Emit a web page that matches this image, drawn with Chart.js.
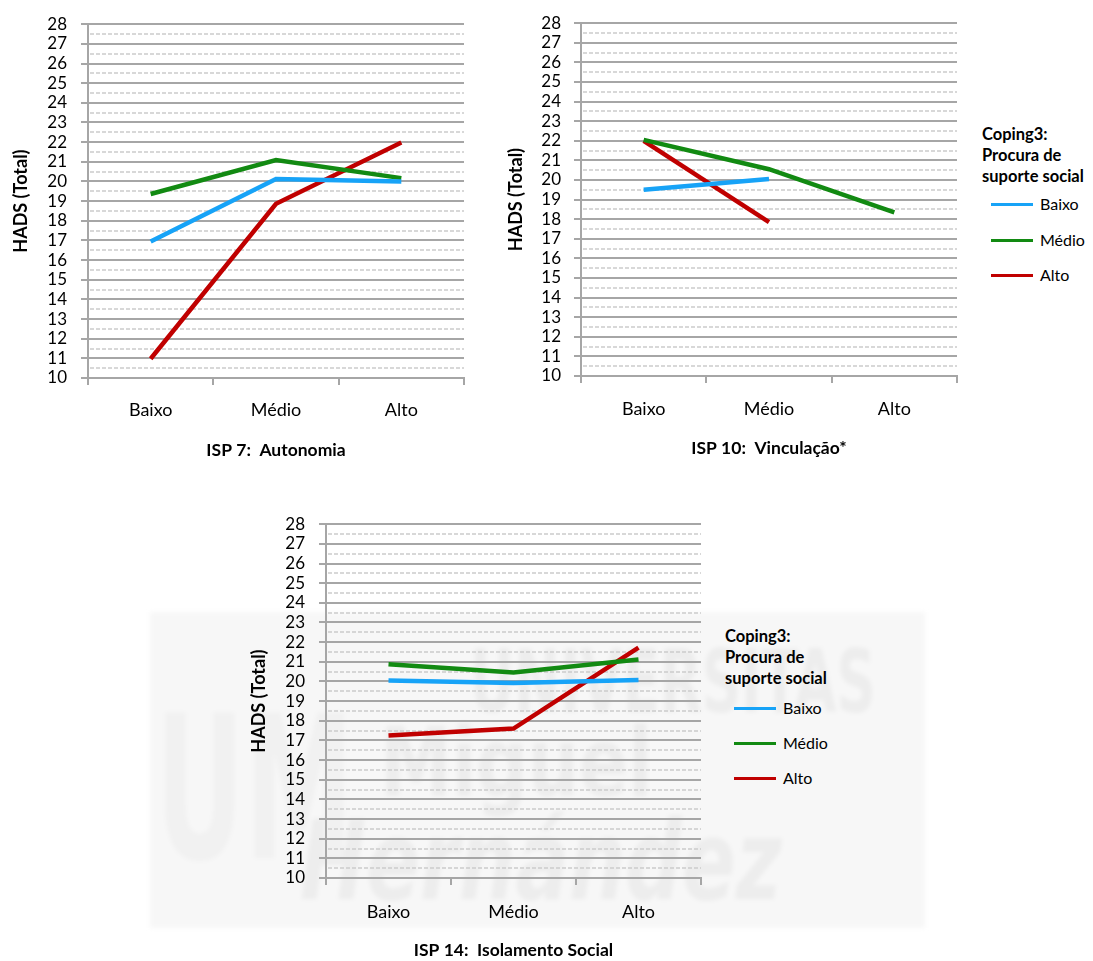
<!DOCTYPE html>
<html>
<head>
<meta charset="utf-8">
<script src="https://cdn.jsdelivr.net/npm/chart.js@4.4.0/dist/chart.umd.min.js"></script>
<style>
  body { margin: 0; background: #fff; width: 1093px; height: 961px; position: relative; overflow: hidden; font-family: Lato, sans-serif; }
  canvas { position: absolute; }
  .wm { position: absolute; left: 150px; top: 612px; width: 775px; height: 316px; background: #f7f7f7; filter: blur(2px); overflow: hidden; }
  .wm div { position: absolute; color: #ededed; font-family: "DejaVu Sans", sans-serif; font-weight: bold; white-space: nowrap; transform-origin: left top; }
  .legend { position: absolute; color: #000; }
  .legend .ttl { font-weight: bold; font-size: 16.5px; line-height: 21px; white-space: nowrap; }
  .legend .item { position: absolute; left: 0; height: 20px; font-size: 16px; line-height: 20px; white-space: nowrap; }
  .legend .sw { position: absolute; left: 9px; top: 9px; width: 42px; height: 3px; }
  .legend .lb { position: absolute; left: 58px; top: 0; }
</style>
</head>
<body>
<div class="wm">
  <div style="left:320px;top:18px;font-size:88px;transform:scaleX(0.62)">UNIVERSITAS</div>
  <div style="left:230px;top:95px;font-size:96px;transform:scaleX(0.75)">Miguel</div>
  <div style="left:150px;top:185px;font-size:110px;font-style:italic;transform:scaleX(0.72)">Hernández</div>
  <div style="left:5px;top:60px;font-size:200px;transform:scaleX(0.55);color:#f1f1f1">UM</div>
</div>

<canvas id="c1" width="480" height="470" style="left:0;top:0;width:480px;height:470px"></canvas>
<canvas id="c2" width="480" height="470" style="left:500px;top:0;width:480px;height:470px"></canvas>
<canvas id="c3" width="480" height="461" style="left:240px;top:500px;width:480px;height:461px"></canvas>

<div class="legend" id="leg2" style="left:982px;top:124px"></div>
<div class="legend" id="leg3" style="left:725px;top:626px"></div>

<script>
var categories = ['Baixo', 'Médio', 'Alto'];
var seriesNames = ['Baixo', 'Médio', 'Alto'];
var seriesColors = ['#17a3f7', '#128a12', '#c00000'];
var legendTitle = ['Coping3:', 'Procura de', 'suporte social'];
var yTitle = 'HADS (Total)';
var yMin = 10, yMax = 28;

// ISP 7: Autonomia
var isp7Baixo = [16.95, 20.13, 20.0];
var isp7Medio = [19.36, 21.09, 20.17];
var isp7Alto = [10.98, 18.86, 21.98];

// ISP 10: Vinculação*
var isp10Baixo = [19.5, 20.05, null];
var isp10Medio = [22.05, 20.55, 18.35];
var isp10Alto = [22.0, 17.85, null];

// ISP 14: Isolamento Social
var isp14Baixo = [20.05, 19.92, 20.07];
var isp14Medio = [20.88, 20.45, 21.12];
var isp14Alto = [17.25, 17.6, 21.72];

var gridGray = '#a6a6a6';

// dashed half-step lines between the solid ones
var minorGrid = {
  id: 'minorGrid',
  beforeDatasetsDraw: function(chart) {
    var ctx = chart.ctx, area = chart.chartArea, y = chart.scales.y;
    ctx.save();
    ctx.strokeStyle = '#cccccc';
    ctx.lineWidth = 1.6;
    ctx.setLineDash([4, 2]);
    for (var v = y.min + 0.5; v < y.max; v += 1) {
      var py = Math.round(y.getPixelForValue(v));
      ctx.beginPath();
      ctx.moveTo(area.left + 2, py);
      ctx.lineTo(area.right, py);
      ctx.stroke();
    }
    ctx.restore();
  }
};

function makeChart(id, title, baixo, medio, alto, g) {
  var values = [baixo, medio, alto];
  var datasets = [];
  for (var i = 0; i < 3; i++) {
    datasets.push({
      label: seriesNames[i],
      data: values[i],
      borderColor: seriesColors[i],
      backgroundColor: seriesColors[i],
      borderWidth: 4.5,
      pointRadius: 0,
      tension: 0
    });
  }
  return new Chart(document.getElementById(id), {
    type: 'line',
    data: { labels: categories, datasets: datasets },
    plugins: [minorGrid],
    options: {
      responsive: false,
      animation: false,
      layout: { padding: { left: 0, top: g.top, right: g.right, bottom: 0 } },
      plugins: { legend: { display: false }, tooltip: { enabled: false } },
      scales: {
        x: {
          offset: true,
          ticks: { color: '#000', font: { family: 'Lato', size: 18 }, padding: g.xPad },
          grid: { offset: true, drawOnChartArea: false, color: gridGray, lineWidth: 2, tickLength: 7, tickColor: gridGray },
          border: { display: true, color: gridGray, width: 2 },
          title: { display: true, text: title, color: '#000', font: { family: 'Lato', size: 17.5, weight: 'bold' }, padding: { top: 0, bottom: g.xTitlePad } },
          afterFit: function(s) { s.height = g.xHeight; }
        },
        y: {
          min: yMin,
          max: yMax,
          ticks: { stepSize: 1, autoSkip: false, color: '#000', font: { family: 'Lato', size: 17 }, padding: g.yPad },
          grid: { color: gridGray, lineWidth: 2, tickLength: 7, tickColor: gridGray, tickWidth: 2 },
          border: { display: true, color: gridGray, width: 2 },
          title: { display: true, text: yTitle, color: '#000', font: { family: 'Lato', size: 18, weight: 'bold' }, padding: { top: g.yTitlePad, bottom: 0 } },
          afterFit: function(s) { s.width = g.yWidth; }
        }
      }
    }
  });
}

makeChart('c1', 'ISP 7:  Autonomia', isp7Baixo, isp7Medio, isp7Alto,
  { top: 20, right: 16, yWidth: 88, xHeight: 92, xPad: 14, xTitlePad: 9, yPad: 14, yTitlePad: 10 });
makeChart('c2', 'ISP 10:  Vinculação*', isp10Baixo, isp10Medio, isp10Alto,
  { top: 18, right: 23, yWidth: 81, xHeight: 94, xPad: 15, xTitlePad: 11, yPad: 13, yTitlePad: 5 });
makeChart('c3', 'ISP 14:  Isolamento Social', isp14Baixo, isp14Medio, isp14Alto,
  { top: 22, right: 19, yWidth: 86, xHeight: 83, xPad: 16, xTitlePad: 0, yPad: 14, yTitlePad: 8 });

function buildLegend(id, firstItem, gap) {
  var el = document.getElementById(id);
  var t = document.createElement('div');
  t.className = 'ttl';
  t.innerHTML = legendTitle.join('<br>');
  el.appendChild(t);
  for (var i = 0; i < seriesNames.length; i++) {
    var it = document.createElement('div');
    it.className = 'item';
    it.style.top = (firstItem + i * gap - 10) + 'px';
    it.innerHTML = '<span class="sw" style="background:' + seriesColors[i] + '"></span><span class="lb">' + seriesNames[i] + '</span>';
    el.appendChild(it);
  }
}
buildLegend('leg2', 80, 35.5);
buildLegend('leg3', 82, 35);
</script>
</body>
</html>
